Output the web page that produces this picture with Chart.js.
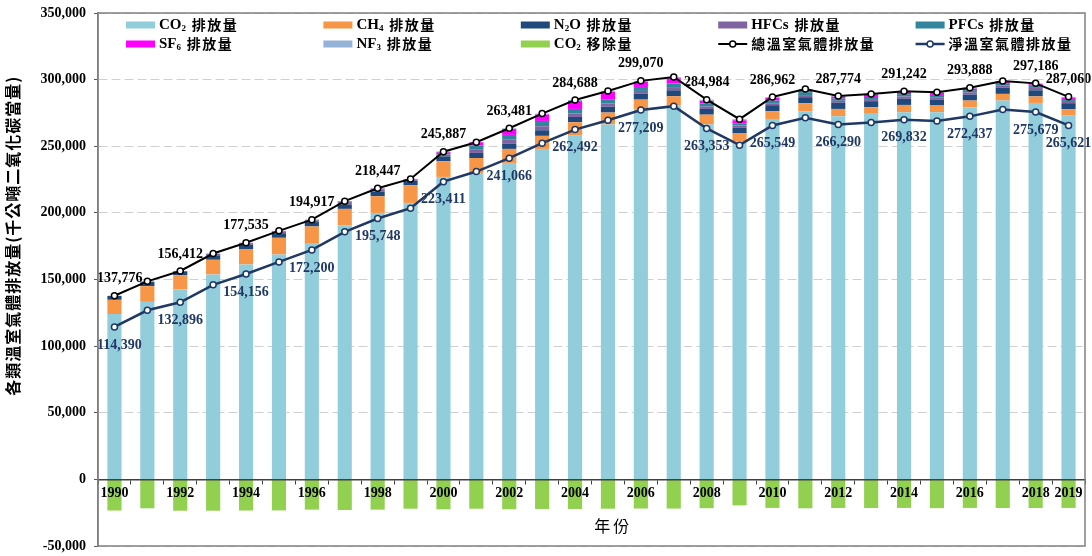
<!DOCTYPE html>
<html lang="zh-Hant">
<head>
<meta charset="utf-8">
<title>各類溫室氣體排放量</title>
<script src="https://cdn.jsdelivr.net/npm/chart.js@4.4.1/dist/chart.umd.min.js"></script>
<style>
  html, body { margin: 0; padding: 0; background: #fff; }
  #wrap { width: 1092px; height: 556px; position: relative; }
</style>
</head>
<body>
<div id="wrap"><canvas id="ghg"></canvas></div>
<script>
/* 各類溫室氣體排放量 1990-2019 (千公噸二氧化碳當量) */
const years = ['1990','1991','1992','1993','1994','1995','1996','1997','1998','1999',
  '2000','2001','2002','2003','2004','2005','2006','2007','2008','2009',
  '2010','2011','2012','2013','2014','2015','2016','2017','2018','2019'];
// years that get an axis label and value labels
const tickYears = ['1990','1992','1994','1996','1998','2000','2002','2004','2006','2008',
  '2010','2012','2014','2016','2018','2019'];

const co2 = [124046,133200,142500,153800,161300,168800,176800,190500,200000,207500,
  227000,230000,237500,248000,258000,266300,278000,280500,266300,253800,
  270500,276300,272500,274300,275500,275500,279300,284300,282500,273000];
const ch4 = [10700,11800,10600,11000,11600,12500,13000,12500,12500,13300,
  11800,11200,10500,9800,10000,9000,7000,7000,7400,5800,
  5800,6000,5500,5000,5500,5100,5000,5000,4900,4800];
const n2o = [2900,3100,3000,3300,3200,3400,3300,3300,3500,3300,
  3600,3800,4000,4200,4000,4400,4500,4500,4300,4200,
  4500,4500,4600,4500,4600,4500,4500,4600,4600,4500];
const hfcs = [100,300,200,1200,1200,1500,1300,1800,1700,600,
  1500,2800,2900,3000,2500,2300,2000,1800,1800,1700,
  1500,1600,1500,1600,1700,1700,1700,1800,1800,1700];
const pfcs = [25,100,62,100,135,200,317,400,447,400,
  1200,2700,3600,4000,3500,3300,3000,3200,2300,1800,
  2000,2200,1700,1600,1800,1700,1600,1700,1600,1500];
const sf6 = [5,100,50,100,100,100,200,300,300,400,
  787,2500,4400,4800,5900,5400,3800,4000,2000,2200,
  2000,1800,1400,1700,1500,1500,1200,1000,1200,900];
const nf3 = [0,0,0,0,0,0,0,0,0,0,
  0,0,581,700,788,800,770,1000,884,800,
  662,600,574,600,642,600,588,600,586,660];
const co2Removal = [-23386,-21700,-23516,-23500,-23379,-23300,-22717,-23000,-22699,-22000,
  -22476,-22000,-22415,-22200,-22196,-22000,-21861,-21900,-21631,-19500,
  -21413,-21700,-21484,-21500,-21410,-21600,-21451,-21500,-21507,-21439];
const totalEmission = [137776,148600,156412,169500,177535,186500,194917,208800,218447,225500,
  245887,253000,263481,274500,284688,291500,299070,302000,284984,270300,
  286962,293000,287774,289300,291242,290600,293888,299000,297186,287060];
const netEmission = [114390,126900,132896,146000,154156,163200,172200,185800,195748,203500,
  223411,231000,241066,252300,262492,269500,277209,280100,263353,250800,
  265549,271300,266290,267800,269832,269000,272437,277500,275679,265621];

const yTitle = '各類溫室氣體排放量(千公噸二氧化碳當量)';
const xTitle = '年份';

const FONT_LATIN = '"Liberation Serif", "Times New Roman", serif';
const FONT_CJK = '"Noto Sans CJK TC", "Noto Sans CJK SC", sans-serif';
const NAVY = '#1F3864';
const SUB = { '₂': '2', '₃': '3', '₄': '4', '₆': '6' };
const isCJK = (ch) => /[\u3000-\u9fff\uff00-\uffef]/.test(ch);

// draws a label char by char so subscripts sit low and CJK gets a little spacing
function drawRich(ctx, text, x, y, size, spacing) {
  for (const ch of text) {
    let out = ch, dy = 0, gap = 0;
    if (SUB[ch]) { ctx.font = `bold ${Math.round(size * 0.62)}px ${FONT_LATIN}`; out = SUB[ch]; dy = size * 0.25; }
    else if (isCJK(ch)) { ctx.font = `bold ${size - 1}px ${FONT_CJK}`; gap = spacing; }
    else { ctx.font = `bold ${size}px ${FONT_LATIN}`; if (ch === ' ') gap = 2; }
    ctx.fillText(out, x, y + dy);
    x += ctx.measureText(out).width + gap;
  }
  return x;
}

const legendGrid = {
  id: 'legendGrid',
  afterDraw(chart) {
    const { ctx, chartArea: a } = chart;
    const colW = (a.right - a.left) * 0.2;
    ctx.save();
    ctx.textAlign = 'left';
    ctx.textBaseline = 'middle';
    chart.data.datasets.forEach((ds, i) => {
      const x = a.left + 28 + (i % 5) * colW;
      const y = a.top + 12 + Math.floor(i / 5) * 19;
      if (ds.type === 'line') {
        ctx.strokeStyle = ds.borderColor;
        ctx.lineWidth = ds.borderWidth;
        ctx.beginPath(); ctx.moveTo(x, y); ctx.lineTo(x + 29, y); ctx.stroke();
        ctx.beginPath(); ctx.arc(x + 14.5, y, 3, 0, Math.PI * 2);
        ctx.fillStyle = '#fff'; ctx.fill(); ctx.lineWidth = 1.5; ctx.stroke();
      } else {
        ctx.fillStyle = ds.backgroundColor;
        ctx.fillRect(x, y - 3.5, 29, 7);
      }
      ctx.fillStyle = '#000';
      drawRich(ctx, ds.label, x + 33, y, 15, 1.5);
    });
    ctx.restore();
  }
};

const valueLabels = {
  id: 'valueLabels',
  afterDatasetsDraw(chart) {
    const { ctx, chartArea: a } = chart;
    ctx.save();
    ctx.font = `bold 14px ${FONT_LATIN}`;
    ctx.textAlign = 'center';
    ctx.textBaseline = 'middle';
    chart.data.datasets.forEach((ds, di) => {
      if (!ds.valueLabel) return;
      chart.getDatasetMeta(di).data.forEach((pt, i) => {
        if (!tickYears.includes(years[i])) return;
        const text = ds.data[i].toLocaleString('en-US');
        const w = ctx.measureText(text).width;
        const x = Math.max(pt.x, a.left - 1 + w / 2);
        ctx.fillStyle = ds.valueLabel.color;
        ctx.fillText(text, x, pt.y + ds.valueLabel.dy);
      });
    });
    ctx.restore();
  }
};

const frameAndTitles = {
  id: 'frameAndTitles',
  afterDraw(chart) {
    const { ctx, chartArea: a } = chart;
    ctx.save();
    ctx.strokeStyle = '#808080';
    ctx.lineWidth = 1.5;
    ctx.strokeRect(a.left, a.top, a.right - a.left, a.bottom - a.top);

    ctx.fillStyle = '#000';
    ctx.textAlign = 'center';
    ctx.textBaseline = 'middle';
    ctx.font = `${16}px ${FONT_CJK}`;
    ctx.letterSpacing = '3px';
    ctx.fillText(xTitle, a.left + (a.right - a.left) * 0.522, a.bottom - 20);

    ctx.font = `bold 16px ${FONT_CJK}`;
    ctx.letterSpacing = '1px';
    ctx.translate(13, a.top + (a.bottom - a.top) * 0.418);
    ctx.rotate(-Math.PI / 2);
    ctx.fillText(yTitle, 0, 0);
    ctx.restore();
  }
};

const bar = (label, data, color) => ({
  type: 'bar', label, data, backgroundColor: color, borderWidth: 0,
  stack: 'gas', order: 2, barPercentage: 0.43, categoryPercentage: 1
});

new Chart(document.getElementById('ghg'), {
  data: {
    labels: years,
    datasets: [
      bar('CO₂ 排放量', co2, '#92CDDC'),
      bar('CH₄ 排放量', ch4, '#F79646'),
      bar('N₂O 排放量', n2o, '#1F497D'),
      bar('HFCs 排放量', hfcs, '#8064A2'),
      bar('PFCs 排放量', pfcs, '#31859C'),
      bar('SF₆ 排放量', sf6, '#FF00FF'),
      bar('NF₃ 排放量', nf3, '#95B3D7'),
      bar('CO₂ 移除量', co2Removal, '#92D050'),
      { type: 'line', label: '總溫室氣體排放量', data: totalEmission, stack: 'total', order: 0,
        borderColor: '#000', borderWidth: 2, tension: 0,
        pointRadius: 3, pointBackgroundColor: '#fff', pointBorderColor: '#000', pointBorderWidth: 1.5,
        valueLabel: { color: '#000', dy: -17 } },
      { type: 'line', label: '淨溫室氣體排放量', data: netEmission, stack: 'net', order: 1,
        borderColor: NAVY, borderWidth: 2.5, tension: 0,
        pointRadius: 3, pointBackgroundColor: '#fff', pointBorderColor: NAVY, pointBorderWidth: 1.5,
        valueLabel: { color: NAVY, dy: 18 } },
    ],
  },
  options: {
    responsive: true, maintainAspectRatio: false, animation: false,
    layout: { padding: { left: 0, top: 13, right: 7, bottom: 10 } },
    plugins: { legend: { display: false }, tooltip: { enabled: false } },
    scales: {
      x: {
        stacked: true, position: { y: 0 },
        ticks: {
          z: 2, color: '#000', font: { family: FONT_LATIN, size: 14, weight: 'bold' },
          autoSkip: false, maxRotation: 0, padding: 2,
          callback(v, i) { return tickYears.includes(years[i]) ? years[i] : ''; }
        },
        grid: { z: 1, drawOnChartArea: false, drawTicks: true, tickLength: 4, tickColor: '#404040', offset: true },
        border: { z: 1, color: '#404040', width: 1.5 },
        afterFit: (s) => { s.paddingLeft = 0; s.paddingRight = 0; s.paddingTop = 0; s.paddingBottom = 0; },
      },
      y: {
        stacked: true, min: -50000, max: 350000,
        ticks: {
          stepSize: 50000, color: '#000', padding: 8,
          font: { family: FONT_LATIN, size: 14, weight: 'bold' },
          callback: (v) => v.toLocaleString('en-US'),
        },
        grid: { color: '#D0D0D0', lineWidth: 1, tickLength: 4, tickColor: '#595959' },
        border: { color: '#808080', width: 1.5, dash: [9, 4] },
        afterFit: (s) => { s.width = 98; s.paddingTop = 0; s.paddingBottom = 0; },
      },
    },
  },
  plugins: [valueLabels, legendGrid, frameAndTitles],
});
</script>
</body>
</html>
